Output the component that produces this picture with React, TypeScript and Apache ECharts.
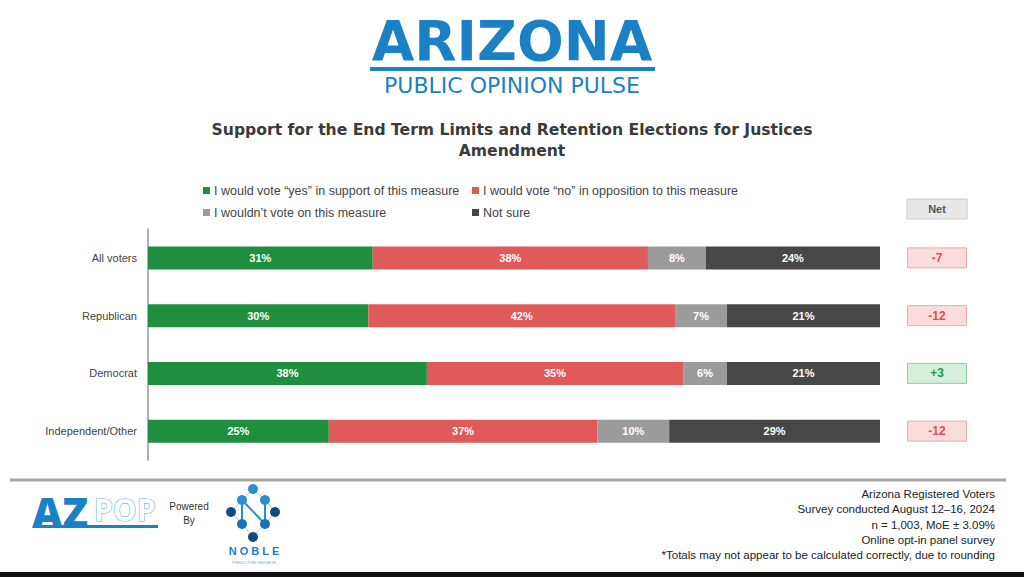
import React, { useEffect, useRef } from "react";
import * as echarts from "echarts";

const categories = ["All voters", "Republican", "Democrat", "Independent/Other"];
const seriesNames = [
  "I would vote \u201cyes\u201d in support of this measure",
  "I would vote \u201cno\u201d in opposition to this measure",
  "I wouldn\u2019t vote on this measure",
  "Not sure",
];
const yesValues = [30.7, 30.1, 38.1, 24.7];
const noValues = [37.6, 41.9, 35.0, 36.7];
const wouldntValues = [7.9, 7.1, 6.0, 9.8];
const notSureValues = [23.8, 20.9, 20.9, 28.8];
const colors = ["#1f8f3f", "#e05a5c", "#9b9b9b", "#474747"];

const footerLines = [
  "Arizona Registered Voters",
  "Survey conducted August 12\u201316, 2024",
  "n = 1,003, MoE \u00b1 3.09%",
  "Online opt-in panel survey",
  "*Totals may not appear to be calculated correctly, due to rounding",
];

const FONT = "'Liberation Sans', Arial, sans-serif";
const WIDE = "'DejaVu Sans', sans-serif";
const BLUE = "#1b80c4";

export default function App() {
  const ref = useRef<HTMLDivElement>(null);
  useEffect(() => {
    if (!ref.current) return;
    const chart = echarts.init(ref.current, undefined, { renderer: "svg" });
    const allValues = [yesValues, noValues, wouldntValues, notSureValues];
    const nets = yesValues.map((y, i) => Math.round(y - noValues[i]));

    const legendPos = [
      { left: 198, top: 179 },
      { left: 467, top: 179 },
      { left: 198, top: 201 },
      { left: 467, top: 201 },
    ];

    const legends = seriesNames.map((n, i) => ({
      data: [n],
      left: legendPos[i].left,
      top: legendPos[i].top,
      icon: "rect",
      itemWidth: 7,
      itemHeight: 7,
      itemGap: 4,
      selectedMode: false,
      textStyle: { fontFamily: FONT, fontSize: 12.5, color: "#444", padding: [0, 0, 0, -1] },
    }));

    const barSeries = seriesNames.map((n, i) => ({
      name: n,
      type: "bar",
      stack: "total",
      xAxisIndex: 0,
      yAxisIndex: 0,
      barWidth: 23,
      data: allValues[i],
      itemStyle: { color: colors[i] },
      label: {
        show: true,
        position: "inside",
        formatter: (p: any) => Math.round(p.value) + "%",
        color: "#fff",
        fontWeight: "bold",
        fontSize: 11,
        fontFamily: FONT,
      },
    }));

    const dotColors = { a: "#2a8fd0", b: "#1a6fb5", c: "#174a7c" };
    const dots = [
      [253, 489, dotColors.a],
      [242, 500, dotColors.a],
      [265, 500, dotColors.a],
      [231, 512, dotColors.c],
      [275, 512, dotColors.c],
      [242, 524, dotColors.b],
      [265, 524, dotColors.b],
      [253, 537, dotColors.c],
    ];

    const graphic: any[] = [
      // Arizona logo
      {
        type: "text",
        x: 512,
        y: 41,
        style: {
          text: "ARIZONA",
          fontFamily: WIDE,
          fontWeight: "bold",
          fontSize: 55,
          fill: BLUE,
          textAlign: "center",
          textVerticalAlign: "middle",
        },
      },
      { type: "rect", shape: { x: 370, y: 67, width: 285, height: 4 }, style: { fill: BLUE } },
      {
        type: "text",
        x: 512,
        y: 85,
        style: {
          text: "PUBLIC OPINION PULSE",
          fontFamily: WIDE,
          fontSize: 22,
          fill: BLUE,
          textAlign: "center",
          textVerticalAlign: "middle",
        },
      },
      // Title
      {
        type: "text",
        x: 512,
        y: 130,
        style: {
          text: "Support for the End Term Limits and Retention Elections for Justices",
          fontFamily: WIDE,
          fontWeight: "bold",
          fontSize: 15.6,
          fill: "#3a3a3a",
          textAlign: "center",
          textVerticalAlign: "middle",
        },
      },
      {
        type: "text",
        x: 512,
        y: 151,
        style: {
          text: "Amendment",
          fontFamily: WIDE,
          fontWeight: "bold",
          fontSize: 15.6,
          fill: "#3a3a3a",
          textAlign: "center",
          textVerticalAlign: "middle",
        },
      },
      // Net header
      {
        type: "rect",
        shape: { x: 907, y: 199, width: 60, height: 20 },
        style: { fill: "#e8e8e8", stroke: "#c8c8c8", lineWidth: 1 },
      },
      {
        type: "text",
        x: 937,
        y: 209,
        style: {
          text: "Net",
          fontFamily: FONT,
          fontWeight: "bold",
          fontSize: 11,
          fill: "#555",
          textAlign: "center",
          textVerticalAlign: "middle",
        },
      },
      // footer line
      { type: "line", shape: { x1: 10, y1: 480, x2: 1006, y2: 480 }, style: { stroke: "#a5a5a5", lineWidth: 3 } },
      { type: "rect", shape: { x: 0, y: 572, width: 1024, height: 5 }, style: { fill: "#111" } },
      // AZPOP logo
      {
        type: "text",
        x: 32,
        y: 511,
        style: {
          text: "AZ",
          fontFamily: "'Open Sans', sans-serif",
          fontWeight: 800,
          fontSize: 42,
          fill: BLUE,
          textVerticalAlign: "middle",
        },
      },
      {
        type: "text",
        x: 94,
        y: 509,
        style: {
          text: "POP",
          fontFamily: "'Open Sans', sans-serif",
          fontWeight: 700,
          fontSize: 30,
          fill: "#fff",
          stroke: "#6fb3e0",
          lineWidth: 1.2,
          textVerticalAlign: "middle",
        },
      },
      { type: "rect", shape: { x: 33, y: 525, width: 125, height: 3 }, style: { fill: BLUE } },
      {
        type: "text",
        x: 189,
        y: 506,
        style: { text: "Powered", fontFamily: FONT, fontSize: 10, fill: "#333", textAlign: "center", textVerticalAlign: "middle" },
      },
      {
        type: "text",
        x: 189,
        y: 520,
        style: { text: "By", fontFamily: FONT, fontSize: 10, fill: "#333", textAlign: "center", textVerticalAlign: "middle" },
      },
      // Noble logo lines
      {
        type: "polyline",
        shape: { points: [[242, 524], [242, 500], [265, 524], [265, 500]] },
        style: { stroke: "#2a8fd0", lineWidth: 2, fill: "none" },
      },
      {
        type: "polyline",
        shape: { points: [[253, 489], [242, 500], [231, 512], [242, 524], [253, 537], [265, 524], [275, 512], [265, 500], [253, 489]] },
        style: { stroke: "#9cc9ea", lineWidth: 1, fill: "none" },
      },
      ...dots.map((d) => ({
        type: "circle",
        shape: { cx: d[0] as number, cy: d[1] as number, r: 5 },
        style: { fill: d[2] as string },
      })),
      {
        type: "text",
        x: 254,
        y: 551,
        style: {
          text: "N O B L E",
          fontFamily: FONT,
          fontWeight: "bold",
          fontSize: 11,
          fill: BLUE,
          textAlign: "center",
          textVerticalAlign: "middle",
        },
      },
      {
        type: "text",
        x: 254,
        y: 562,
        style: {
          text: "PREDICTIVE INSIGHTS",
          fontFamily: FONT,
          fontSize: 4,
          fill: "#6fa8d6",
          textAlign: "center",
          textVerticalAlign: "middle",
        },
      },
      ...footerLines.map((t, i) => ({
        type: "text",
        x: 995,
        y: 494 + i * 15.3,
        style: {
          text: t,
          fontFamily: FONT,
          fontSize: 11.5,
          fill: "#222",
          textAlign: "right",
          textVerticalAlign: "middle",
        },
      })),
    ];

    chart.setOption({
      animation: false,
      backgroundColor: "#fff",
      color: colors,
      legend: legends,
      grid: [
        { left: 148, right: 144, top: 229, height: 231 },
        { left: 907, width: 60, top: 229, height: 231 },
      ],
      xAxis: [
        { type: "value", gridIndex: 0, min: 0, max: 100, show: false },
        { type: "value", gridIndex: 1, min: 0, max: 1, show: false },
      ],
      yAxis: [
        {
          type: "category",
          gridIndex: 0,
          data: categories,
          inverse: true,
          axisLine: { show: true, lineStyle: { color: "#999", width: 1.5 } },
          axisTick: { show: false },
          axisLabel: { fontFamily: FONT, fontSize: 11, color: "#444", margin: 11 },
        },
        {
          type: "category",
          gridIndex: 1,
          data: categories,
          inverse: true,
          show: false,
        },
      ],
      series: [
        ...barSeries,
        {
          name: "Net",
          type: "bar",
          xAxisIndex: 1,
          yAxisIndex: 1,
          barWidth: 21,
          data: nets.map((n) => ({
            value: 1,
            net: n,
            itemStyle: {
              color: n >= 0 ? "#d6eedc" : "#fbdcdc",
              borderColor: n >= 0 ? "#8fcf9e" : "#f0a8a8",
              borderWidth: 1,
            },
            label: { color: n >= 0 ? "#2a9a46" : "#d9534f" },
          })),
          label: {
            show: true,
            position: "inside",
            formatter: (p: any) => (p.data.net > 0 ? "+" : "") + p.data.net,
            fontWeight: "bold",
            fontSize: 12,
            fontFamily: FONT,
          },
        },
      ],
      graphic,
    });
    return () => chart.dispose();
  }, []);
  return <div ref={ref} style={{ position: "fixed", left: 0, top: 0, width: 1024, height: 577 }} />;
}
